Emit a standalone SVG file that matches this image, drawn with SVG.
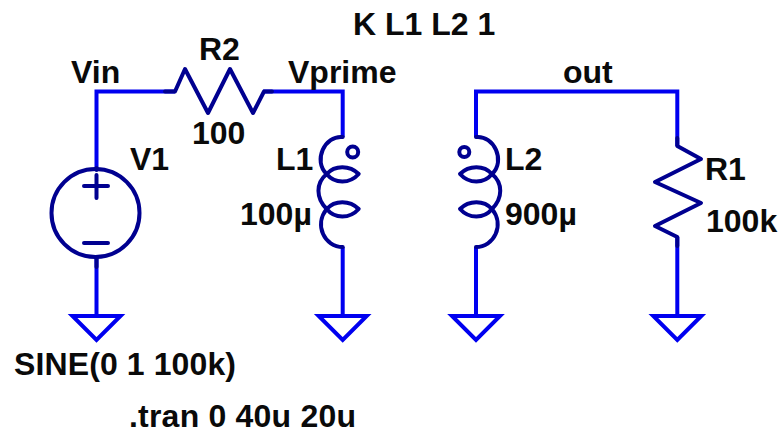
<svg xmlns="http://www.w3.org/2000/svg" width="782" height="433" viewBox="0 0 782 433">
<style>
.w{fill:none;stroke:#0000f0;stroke-width:4;stroke-linejoin:miter}
.s{fill:none;stroke:#000090;stroke-width:4;stroke-linejoin:round;stroke-linecap:round}
.t{font-family:"Liberation Sans",Arial,sans-serif;font-weight:bold;font-size:32px;fill:#0a0a0a}
</style>
<defs>
<path id="gnd" class="w" d="M-24 0H24L0 24Z"/>
<path id="coil" class="s" d="M0 46C-18 44-30 70-16 83C-8 93 7 93 16 83C7 74-8 74-16 83C-27 92-27 107-16 118C-8 128 7 128 16 118C7 109-8 109-16 118C-29 134-18 156 0 156"/>
</defs>
<rect width="782" height="433" fill="#fff"/>
<g id="wires">
<path class="w" d="M96.500 168V91.500H175M263 91.500H342.700V137M342.700 247V316M96.500 258V316"/>
<path class="w" d="M476 137V91.500H677.300V146M476 247V316M677.300 237V316"/>
</g>
<g id="V1">
<circle class="s" cx="95.500" cy="213" r="44"/>
<path class="s" d="M84 186H108M96.500 175V198M84 243H108M96.500 168V170M96.500 257V267"/>
<text class="t" x="130" y="170">V1</text>
<text class="t" x="14" y="375" textLength="222" lengthAdjust="spacing">SINE(0 1 100k)</text>
</g>
<g id="R2">
<path class="s" d="M165 91.500H175L185 69L208 113L230 69L253 113L264 91.500H272"/>
<text class="t" x="199" y="60">R2</text>
<text class="t" x="192" y="144">100</text>
</g>
<g id="L1">
<use href="#coil" transform="translate(342.700,91)"/>
<circle class="s" cx="352.700" cy="152" r="5.500"/>
<text class="t" x="276" y="170">L1</text>
<text class="t" x="240" y="225">100µ</text>
</g>
<g id="L2">
<use href="#coil" transform="translate(476,91) scale(-1,1)"/>
<circle class="s" cx="464.300" cy="152" r="5"/>
<text class="t" x="505" y="170">L2</text>
<text class="t" x="505" y="225">900µ</text>
</g>
<g id="R1">
<path class="s" d="M677.300 138V146L701 159L655 182L701 203L655 226L677.300 237V246"/>
<text class="t" x="705" y="180">R1</text>
<text class="t" x="706" y="232">100k</text>
</g>
<g id="grounds">
<use href="#gnd" x="96.500" y="316"/>
<use href="#gnd" x="342.700" y="316"/>
<use href="#gnd" x="476" y="316"/>
<use href="#gnd" x="677.300" y="316"/>
</g>
<g id="labels">
<text class="t" x="71" y="83">Vin</text>
<text class="t" x="288" y="83">Vprime</text>
<text class="t" x="563" y="83">out</text>
<text class="t" x="353" y="35">K L1 L2 1</text>
<text class="t" x="129" y="427" textLength="227" lengthAdjust="spacing">.tran 0 40u 20u</text>
</g>
</svg>
